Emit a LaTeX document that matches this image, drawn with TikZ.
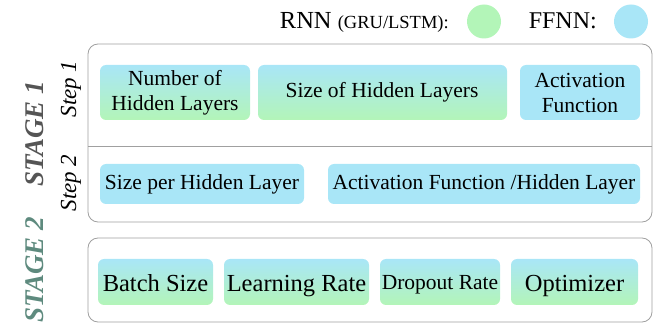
\documentclass[tikz,border=0pt]{standalone}
\usepackage{fontspec}
\setmainfont{Liberation Serif}
\definecolor{ffblue}{HTML}{A9E6F7}
\definecolor{rnngreen}{HTML}{B3F5B8}
\definecolor{framegray}{HTML}{A0A0A0}
\definecolor{stageone}{HTML}{555555}
\definecolor{stagetwo}{HTML}{5E8A7E}
\tikzset{
  frame/.style={draw=framegray, line width=0.8pt, rounded corners=10pt},
  gradbox/.style={rounded corners=6pt, top color=ffblue, bottom color=rnngreen},
  bluebox/.style={rounded corners=6pt, fill=ffblue},
  boxtext/.style={align=center, inner sep=0pt, font=\fontsize{21.5}{25}\selectfont},
  bigtext/.style={align=center, inner sep=0pt, font=\fontsize{24.5}{27}\selectfont},
  stagelbl/.style={rotate=90, inner sep=0pt, font=\fontsize{27}{29}\selectfont\bfseries\itshape},
  steplbl/.style={rotate=90, inner sep=0pt, font=\fontsize{23}{26}\selectfont\itshape},
}
\begin{document}
\begin{tikzpicture}[x=1pt,y=-1pt]
\useasboundingbox (0,0) rectangle (657,326);
% legend
\node[anchor=base east, inner sep=0pt] (rnnlbl) at (449,29) {\fontsize{24.5}{27}\selectfont RNN {\fontsize{18.5}{20}\selectfont(GRU/LSTM):}};
\node[circle, fill=rnngreen, minimum size=34pt, inner sep=0pt] (rnncirc) at (484,21.5) {};
\node[anchor=base east, inner sep=0pt] (fflbl) at (597,29) {\fontsize{24}{27}\selectfont FFNN:};
\node[circle, fill=ffblue, minimum size=34pt, inner sep=0pt] (ffcirc) at (631,21.5) {};
% frames
\draw[frame] (88,44) rectangle (652,222);
\draw[framegray, line width=0.8pt] (88,146) -- (652,146);
\draw[frame] (88,238) rectangle (652,322);
% side labels
\node[stagelbl, text=stageone] (st1) at (35,134) {STAGE 1};
\node[stagelbl, text=stagetwo] (st2) at (35,270) {STAGE 2};
\node[steplbl] (s1) at (71,89) {Step 1};
\node[steplbl] (s2) at (71,183) {Step 2};
% step 1
\path[gradbox] (100,65) rectangle (250,120);
\node[boxtext] (nhl) at (175,92.5) {Number of\\Hidden Layers};
\path[gradbox] (258,65) rectangle (507,120);
\node[boxtext] (shl) at (382,92.5) {Size of Hidden Layers};
\path[bluebox] (520,65) rectangle (640,120);
\node[boxtext] (af) at (580,92.5) {Activation\\Function};
% step 2
\path[bluebox] (100,164) rectangle (304,204);
\node[boxtext] (sphl) at (202,184) {Size per Hidden Layer};
\path[bluebox] (328,164) rectangle (640,204);
\node[boxtext] (afhl) at (484,184) {Activation Function /Hidden Layer};
% stage 2
\path[gradbox] (98,259) rectangle (213,305);
\node[bigtext, anchor=base] (bs) at (155.5,291) {Batch Size};
\path[gradbox] (224,259) rectangle (369,305);
\node[bigtext, anchor=base] (lr) at (296.5,291) {Learning Rate};
\path[gradbox] (380,259) rectangle (500,305);
\node[boxtext, anchor=base] (dr) at (440,290) {Dropout Rate};
\path[gradbox] (511,259) rectangle (638,305);
\node[bigtext, anchor=base] (op) at (574.5,291) {Optimizer};
\end{tikzpicture}
\end{document}
